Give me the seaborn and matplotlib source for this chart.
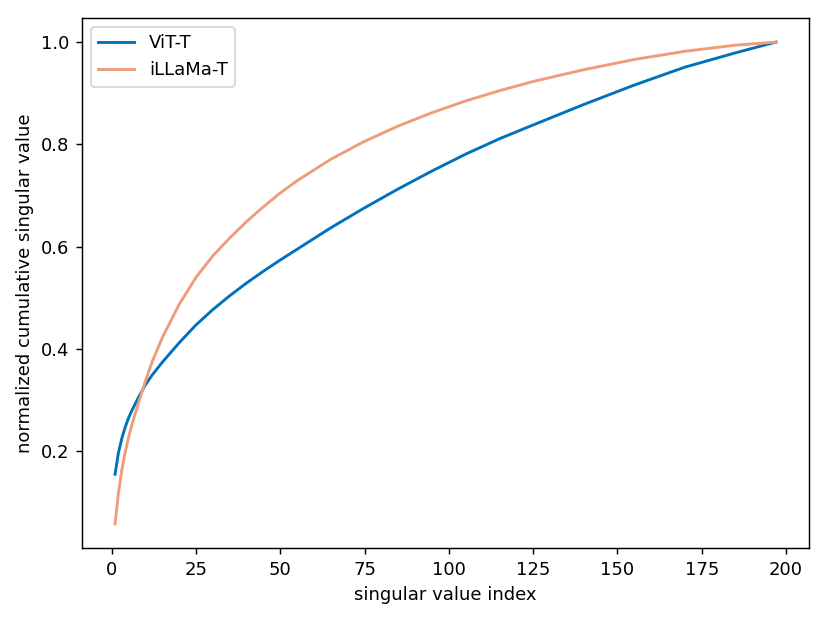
import matplotlib
matplotlib.use("Agg")
import matplotlib.pyplot as plt
import seaborn as sns
import pandas as pd

# singular value indices sampled along the curves
index = [1, 2, 3, 4, 5, 6, 8, 10, 12, 15, 20, 25, 30, 35, 40, 45, 50, 55, 65,
         75, 85, 95, 105, 115, 125, 140, 155, 170, 185, 197]
vit_t = [0.155, 0.197, 0.225, 0.247, 0.265, 0.280, 0.306, 0.330, 0.349, 0.374,
         0.412, 0.447, 0.477, 0.504, 0.529, 0.552, 0.574, 0.595, 0.637, 0.676,
         0.713, 0.748, 0.781, 0.811, 0.838, 0.878, 0.916, 0.951, 0.979, 1.000]
illama_t = [0.058, 0.118, 0.163, 0.198, 0.227, 0.252, 0.296, 0.337, 0.375, 0.422,
            0.487, 0.540, 0.582, 0.617, 0.649, 0.678, 0.705, 0.729, 0.771, 0.806,
            0.836, 0.862, 0.885, 0.905, 0.923, 0.946, 0.966, 0.982, 0.994, 1.000]
series_names = ["ViT-T", "iLLaMa-T"]
colors = ["#0072BD", "#EE9C7A"]

df = pd.concat([
    pd.DataFrame({"x": index, "y": vit_t, "model": series_names[0]}),
    pd.DataFrame({"x": index, "y": illama_t, "model": series_names[1]}),
])

fig, ax = plt.subplots(figsize=(830 / 130, 623 / 130), dpi=130)
fig.subplots_adjust(left=82 / 830, right=809 / 830, top=1 - 18 / 623, bottom=1 - 548 / 623)

sns.lineplot(data=df, x="x", y="y", hue="model", palette=dict(zip(series_names, colors)),
             linewidth=1.6, ax=ax, estimator=None, sort=False)

ax.set_xlabel("singular value index")
ax.set_ylabel("normalized cumulative singular value")
ax.set_xticks([0, 25, 50, 75, 100, 125, 150, 175, 200])
ax.set_yticks([0.2, 0.4, 0.6, 0.8, 1.0])
ax.legend(loc="upper left", title=None)

fig.savefig("out.png", dpi=130)
